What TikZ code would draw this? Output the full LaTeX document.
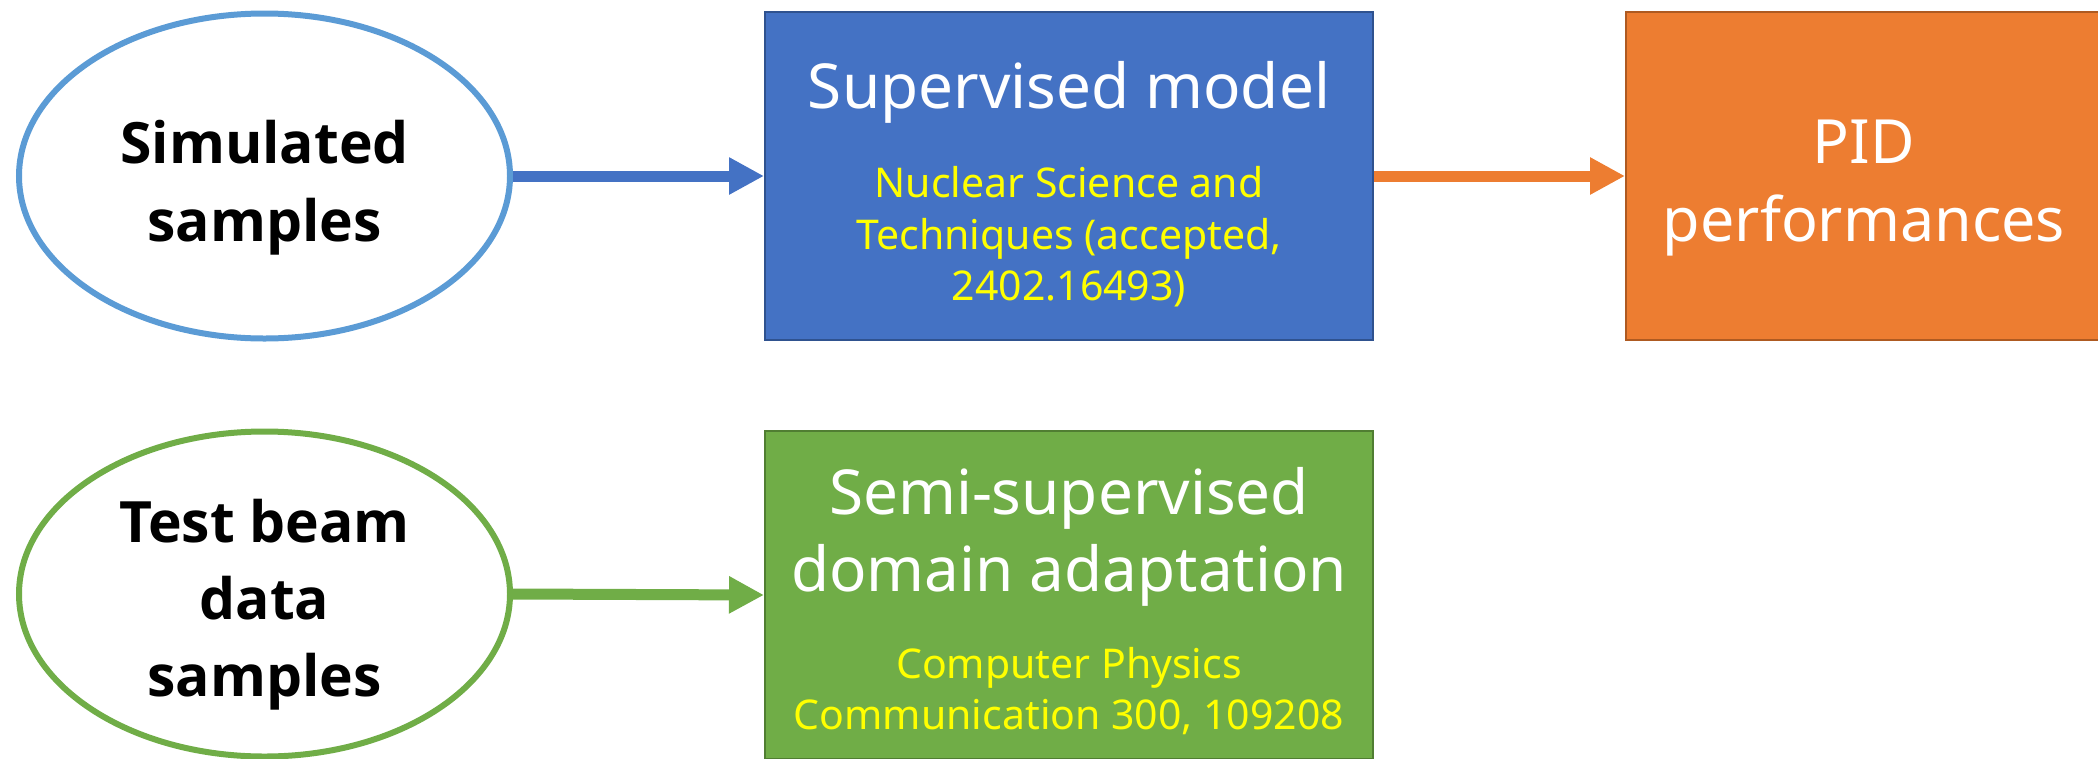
\documentclass[tikz,border=0pt]{standalone}
\usepackage{fontspec}
\setmainfont{Noto Sans}
\newfontfamily\ellfont{Open Sans}
\usetikzlibrary{shapes.geometric,arrows.meta}
\definecolor{cblue}{HTML}{4472C4}
\definecolor{cblueb}{HTML}{2F528F}
\definecolor{corange}{HTML}{ED7D31}
\definecolor{coranb}{HTML}{AE5A21}
\definecolor{cgreen}{HTML}{70AD47}
\definecolor{cgreenb}{HTML}{507E32}
\definecolor{cell}{HTML}{5B9BD5}
\definecolor{cyel}{HTML}{FFFF00}
\tikzset{
  ell/.style={ellipse, draw, line width=6pt, fill=white, minimum width=491pt, minimum height=325pt, inner sep=0pt},
  boxn/.style={rectangle, draw, line width=2pt, minimum width=608pt, minimum height=328pt, inner sep=0pt},
  big/.style={anchor=base, font=\fontsize{62}{77}\selectfont, text=white},
  bigb/.style={anchor=base, font=\ellfont\bfseries\fontsize{57}{77}\selectfont, text=black},
  small/.style={anchor=base, font=\fontsize{41}{51}\selectfont, text=cyel},
  conn/.style={line width=11pt, -{Triangle[length=35pt,width=35pt]}},
}
\begin{document}
\begin{tikzpicture}[x=1pt,y=-1pt]
\useasboundingbox (0,0) rectangle (2098,758);
\clip (0,0) rectangle (2098,758);
% nodes
\node[ell, draw=cell] (sim) at (264.5,176) {};
\node[ell, draw=cgreen] (test) at (264.5,594) {};
\node[boxn, fill=cblue, draw=cblueb] (sup) at (1069,176) {};
\node[boxn, fill=corange, draw=coranb, minimum width=476pt] (pid) at (1864,176) {};
\node[boxn, fill=cgreen, draw=cgreenb] (semi) at (1069,595) {};
% texts
\node[bigb] (t1) at (264.5,163) {Simulated};
\node[bigb] (t2) at (264.5,241) {samples};
\node[bigb] (t3) at (264.5,542) {Test beam};
\node[bigb] (t4) at (264.5,619) {data};
\node[bigb] (t5) at (264.5,696) {samples};
\node[big] (t6) at (1069,108) {Supervised model};
\node[small] (t7) at (1069,197) {Nuclear Science and};
\node[small] (t8) at (1069,249) {Techniques (accepted,};
\node[small] (t9) at (1069,300) {2402.16493)};
\node[big, font=\fontsize{61}{77}\selectfont] (t10) at (1864,163) {PID};
\node[big, font=\fontsize{61}{77}\selectfont] (t11) at (1864,241) {performances};
\node[big] (t12) at (1069,514) {Semi-supervised};
\node[big] (t13) at (1069,591) {domain adaptation};
\node[small] (t14) at (1069,678) {Computer Physics};
\node[small] (t15) at (1069,729.5) {Communication 300, 109208};
% connectors
\draw[conn, cblue] (sim.east) -- (sup.west);
\draw[conn, corange] (sup.east) -- (pid.west);
\draw[conn, cgreen] (test.east) -- (semi.west);
\end{tikzpicture}
\end{document}
